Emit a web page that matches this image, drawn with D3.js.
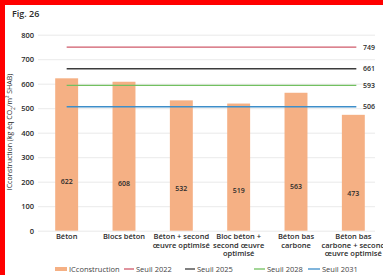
<!DOCTYPE html>
<html>
<head>
<meta charset="utf-8">
<script src="https://cdn.jsdelivr.net/npm/d3@7"></script>
<style>
  body { margin: 0; background: #fff; }
  svg { display: block; }
</style>
</head>
<body>
<div id="chart"></div>
<script>
// Data
const categories = [
    ["Béton"],
    ["Blocs béton"],
    ["Béton + second", "œuvre optimisé"],
    ["Bloc béton +", "second œuvre", "optimisé"],
    ["Béton bas", "carbone"],
    ["Béton bas", "carbone + second", "œuvre optimisé"]
]
const values = [622, 608, 532, 519, 563, 473]
const thresholdNames = ["Seuil 2022", "Seuil 2025", "Seuil 2028", "Seuil 2031"]
const thresholdValues = [749, 661, 593, 506]
const thresholdColors = ["#cf5a6a", "#3c3c3c", "#72c060", "#3d8ec9"]
const yTicks = [0, 100, 200, 300, 400, 500, 600, 700, 800]

// Constants
const width = 383
const height = 275
const margin = { top: 35, right: 1, bottom: 44, left: 38 }
const font = "'Open Sans', sans-serif"
const barColor = "#f5b084"
const textColor = "#2b2b2b"

const svg = d3.select("#chart")
    .append("svg")
    .attr("width", width)
    .attr("height", height)

// Frame
svg.append("rect").attr("x", 0).attr("y", 0).attr("width", width).attr("height", 5).attr("fill", "#ff0000")
svg.append("rect").attr("x", 0).attr("y", 0).attr("width", 5).attr("height", height).attr("fill", "#ff0000")

svg.append("text")
    .attr("x", 12)
    .attr("y", 17)
    .style("font-family", font)
    .style("font-size", "9px")
    .style("font-weight", 600)
    .style("fill", textColor)
    .text("Fig. 26")

// Scales
const x = d3.scaleBand()
    .domain(categories.map((d, i) => i))
    .range([margin.left, width - margin.right])
    .paddingInner(0.6)
    .paddingOuter(0.3)

const y = d3.scaleLinear()
    .domain([0, 800])
    .range([230.7, 34.7])

// Y axis with gridlines
const yAxisGroup = svg.append("g")
    .attr("transform", `translate(${margin.left}, 0)`)
    .call(d3.axisLeft(y).tickValues(yTicks).tickSize(-(375 - margin.left)).tickPadding(4))
yAxisGroup.select(".domain").remove()
yAxisGroup.selectAll("line")
    .style("stroke", "#e3e3e3")
    .style("stroke-width", 0.8)
yAxisGroup.selectAll("text")
    .style("font-family", font)
    .style("font-size", "7.5px")
    .style("font-weight", 600)
    .style("fill", textColor)

// Axis title
svg.append("text")
    .attr("transform", "translate(12, 132) rotate(-90)")
    .style("text-anchor", "middle")
    .style("font-family", font)
    .style("font-size", "7px")
    .style("fill", textColor)
    .html("ICconstruction (kg éq CO<tspan baseline-shift='sub' font-size='5px'>2</tspan>/m² SHAB)")

// Bars
svg.selectAll(".bar")
    .data(values)
    .enter()
    .append("rect")
    .attr("class", "bar")
    .attr("x", (d, i) => x(i))
    .attr("y", d => y(d))
    .attr("width", x.bandwidth())
    .attr("height", d => y(0) - y(d))
    .attr("fill", barColor)

// Bar labels
svg.selectAll(".barLabel")
    .data(values)
    .enter()
    .append("text")
    .attr("x", (d, i) => x(i) + x.bandwidth() / 2)
    .attr("y", d => y(d * 0.32) + 2.5)
    .style("text-anchor", "middle")
    .style("font-family", font)
    .style("font-size", "7px")
    .style("font-weight", 600)
    .style("fill", textColor)
    .text(d => d)

// Threshold lines
const xStart = x(0) + x.bandwidth() / 2
const xEnd = x(categories.length - 1) + x.bandwidth() / 2 + 3
thresholdValues.forEach((v, i) => {
    svg.append("line")
        .attr("x1", xStart)
        .attr("x2", xEnd)
        .attr("y1", y(v))
        .attr("y2", y(v))
        .style("stroke", thresholdColors[i])
        .style("stroke-width", 1.3)
    svg.append("text")
        .attr("x", 363)
        .attr("y", y(v) + 2.5)
        .style("font-family", font)
        .style("font-size", "7px")
        .style("font-weight", 600)
        .style("fill", textColor)
        .text(v)
})

// Category labels
categories.forEach((lines, i) => {
    const t = svg.append("text")
        .attr("x", x(i) + x.bandwidth() / 2)
        .attr("y", 239)
        .style("text-anchor", "middle")
        .style("font-family", font)
        .style("font-size", "7.5px")
        .style("font-weight", 600)
        .style("fill", textColor)
    lines.forEach((l, j) => {
        t.append("tspan")
            .attr("x", x(i) + x.bandwidth() / 2)
            .attr("dy", j === 0 ? 0 : 8.6)
            .text(l)
    })
})

// Legend
const legendItems = [
    { name: "ICconstruction", color: barColor, x: 55, w: 12, h: 4 },
    { name: thresholdNames[0], color: thresholdColors[0], x: 124, w: 10, h: 1.3 },
    { name: thresholdNames[1], color: thresholdColors[1], x: 185, w: 10, h: 1.3 },
    { name: thresholdNames[2], color: thresholdColors[2], x: 254, w: 11, h: 1.3 },
    { name: thresholdNames[3], color: thresholdColors[3], x: 308, w: 12, h: 1.3 }
]
const legend = svg.append("g").attr("transform", "translate(0, 269)")
legendItems.forEach(d => {
    legend.append("rect")
        .attr("x", d.x)
        .attr("y", -d.h / 2)
        .attr("width", d.w)
        .attr("height", d.h)
        .attr("fill", d.color)
    legend.append("text")
        .attr("x", d.x + d.w + 2)
        .attr("y", 2.6)
        .style("font-family", font)
        .style("font-size", "7.5px")
        .style("fill", "#444")
        .text(d.name)
})
</script>
</body>
</html>
